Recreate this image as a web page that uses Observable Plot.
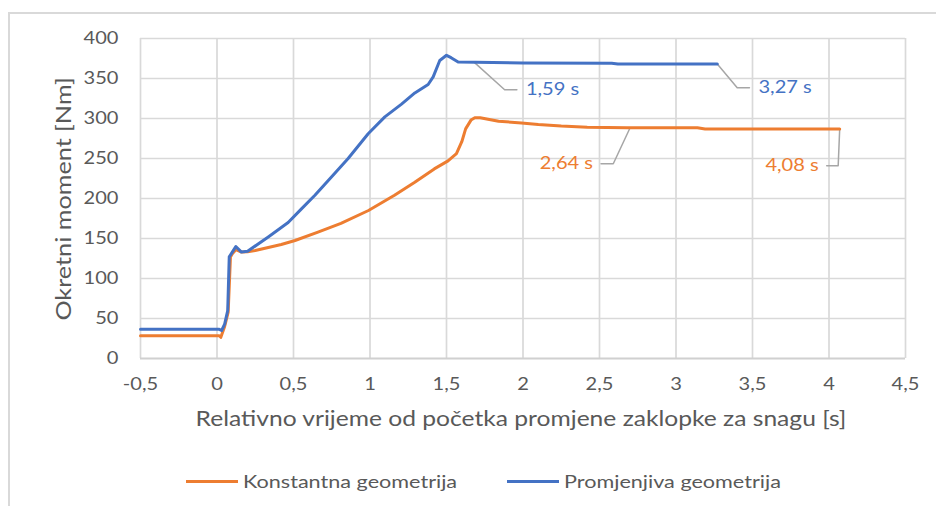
<!DOCTYPE html>
<html>
<head>
<meta charset="utf-8">
<script src="https://cdn.jsdelivr.net/npm/d3@7"></script>
<script src="https://cdn.jsdelivr.net/npm/@observablehq/plot@0.6"></script>
<style>
  html, body { margin: 0; padding: 0; background: #fff; }
  #wrap { position: relative; width: 936px; height: 506px; overflow: hidden; font-family: Lato, "Open Sans", sans-serif; color: #595959; }
  #border { position: absolute; left: 8px; top: 12px; width: 940px; height: 500px; border-left: 2px solid #d9d9d9; border-top: 2px solid #d9d9d9; }
  #chart { position: absolute; left: 0; top: 0; }
  .xtitle { position: absolute; left: 521px; top: 418px; font-size: 20.5px; white-space: nowrap; transform: translate(-50%, -50%) scaleX(1.2); }
  .ytitle { position: absolute; left: 63px; top: 199px; font-size: 20.5px; white-space: nowrap; transform: translate(-50%, -50%) rotate(-90deg) scaleX(1.23); }
  .legend { position: absolute; top: 469px; left: 0; width: 936px; height: 24px; }
  .item { position: absolute; top: 0; height: 24px; display: flex; align-items: center; font-size: 18px; white-space: nowrap; }
  .sw { display: inline-block; width: 52px; height: 3px; margin-right: 5px; }
  .lab { display: inline-block; transform-origin: left center; transform: scaleX(1.2); }
</style>
</head>
<body>
<div id="wrap">
  <div id="border"></div>
  <div id="chart"></div>
</div>
<script>
// ---- data ----
const seriesNames = ["Konstantna geometrija", "Promjenjiva geometrija"];
const seriesColors = ["#ED7D31", "#4472C4"];

const konstTime = [-0.5, 0.015, 0.025, 0.05, 0.073, 0.088, 0.1, 0.123, 0.16, 0.2, 0.25, 0.42, 0.51, 0.66, 0.81, 0.99, 1.16, 1.29, 1.42, 1.51, 1.565, 1.6, 1.625, 1.66, 1.685, 1.72, 1.84, 1.99, 2.1, 2.25, 2.42, 2.68, 3.14, 3.19, 4.07];
const konstValue = [28.5, 28.5, 26.5, 40, 58, 127, 131, 136, 133, 133.5, 135, 142.5, 147.5, 158, 169, 185, 204, 220, 237, 247, 256, 271, 287, 298, 301, 301, 296.5, 294.5, 292.5, 290.5, 289, 288.5, 288.5, 287, 287];

const promTime = [-0.5, 0.015, 0.03, 0.05, 0.07, 0.08, 0.1, 0.123, 0.16, 0.2, 0.335, 0.465, 0.552, 0.64, 0.748, 0.857, 0.988, 1.097, 1.206, 1.293, 1.38, 1.413, 1.456, 1.5, 1.53, 1.576, 2.0, 2.58, 2.62, 3.27];
const promValue = [36.5, 36.5, 35, 43, 60, 127, 133, 140, 133, 134, 152, 170, 187, 204, 227, 250, 281, 302, 318, 332, 342.5, 352, 372.5, 379, 376, 370.5, 369.5, 369, 368, 368];

const xTicks = [-0.5, 0, 0.5, 1, 1.5, 2, 2.5, 3, 3.5, 4, 4.5];
const yTicks = [0, 50, 100, 150, 200, 250, 300, 350, 400];

const xTitle = "Relativno vrijeme od početka promjene zaklopke za snagu [s]";
const yTitle = "Okretni moment [Nm]";

// data labels (leader lines)
const annText = ["1,59 s", "3,27 s", "2,64 s", "4,08 s"];
const annSeries = [1, 1, 0, 0];
const annAnchorT = [1.68, 3.27, 2.70, 4.07];
const annAnchorV = [370.5, 368, 288.5, 287];
const annElbowT = [1.88, 3.40, 2.59, 4.06];
const annElbowV = [336, 338.5, 243.5, 241];
const annEndT = [1.96, 3.48, 2.51, 3.985];
const annSide = ["right", "right", "left", "left"];

// ---- build tables ----
const konst = konstTime.map((t, i) => ({t, v: konstValue[i]}));
const prom = promTime.map((t, i) => ({t, v: promValue[i]}));
const leaders = [];
annText.forEach((s, i) => {
  leaders.push({id: i, t: annAnchorT[i], v: annAnchorV[i]});
  leaders.push({id: i, t: annElbowT[i], v: annElbowV[i]});
  leaders.push({id: i, t: annEndT[i], v: annElbowV[i]});
});
const labels = annText.map((s, i) => ({text: s, t: annEndT[i], v: annElbowV[i], color: seriesColors[annSeries[i]], side: annSide[i]}));
const fmt = d => String(d).replace(".", ",");

const plot = Plot.plot({
  width: 936,
  height: 440,
  marginLeft: 140,
  marginRight: 31,
  marginTop: 38,
  marginBottom: 82,
  style: {fontFamily: "Lato, 'Open Sans', sans-serif", fontSize: "17px", color: "#595959", background: "transparent", overflow: "visible"},
  x: {domain: [-0.5, 4.5], ticks: xTicks, tickFormat: fmt, tickSize: 0, tickPadding: 19, label: null},
  y: {domain: [0, 400], ticks: yTicks, tickSize: 0, tickPadding: 22, label: null},
  marks: [
    Plot.ruleX(xTicks, {stroke: "#d9d9d9", strokeWidth: 1.7}),
    Plot.ruleY(yTicks.filter(d => d > 0), {stroke: "#d9d9d9", strokeWidth: 1.5}),
    Plot.ruleY([0], {stroke: "#d0d0d0", strokeWidth: 1.8}),
    Plot.line(leaders, {x: "t", y: "v", z: "id", stroke: "#a6a6a6", strokeWidth: 1.5}),
    Plot.line(konst, {x: "t", y: "v", stroke: seriesColors[0], strokeWidth: 3, strokeLinejoin: "round", strokeLinecap: "round"}),
    Plot.line(prom, {x: "t", y: "v", stroke: seriesColors[1], strokeWidth: 3, strokeLinejoin: "round", strokeLinecap: "round"}),
    Plot.text(labels.filter(d => d.side === "right"), {x: "t", y: "v", text: "text", fill: "color", textAnchor: "start", dx: 9, fontSize: 17}),
    Plot.text(labels.filter(d => d.side === "left"), {x: "t", y: "v", text: "text", fill: "color", textAnchor: "end", dx: -8, fontSize: 17})
  ]
});
document.getElementById("chart").appendChild(plot);

// widen glyphs horizontally to mimic the original's proportions
plot.querySelectorAll("text").forEach(t => {
  if (!t.textContent) return;
  const w = t.getComputedTextLength();
  if (w > 0) {
    t.setAttribute("textLength", (w * 1.18).toFixed(1));
    t.setAttribute("lengthAdjust", "spacingAndGlyphs");
  }
});

const wrap = document.getElementById("wrap");
const xt = document.createElement("div"); xt.className = "xtitle"; xt.textContent = xTitle; wrap.appendChild(xt);
const yt = document.createElement("div"); yt.className = "ytitle"; yt.textContent = yTitle; wrap.appendChild(yt);

const legend = document.createElement("div"); legend.className = "legend";
const legendLeft = [186, 507];
seriesNames.forEach((n, i) => {
  const it = document.createElement("div"); it.className = "item"; it.style.left = legendLeft[i] + "px";
  const sw = document.createElement("span"); sw.className = "sw"; sw.style.background = seriesColors[i];
  const lb = document.createElement("span"); lb.className = "lab"; lb.textContent = n;
  it.appendChild(sw); it.appendChild(lb); legend.appendChild(it);
});
wrap.appendChild(legend);
</script>
</body>
</html>
